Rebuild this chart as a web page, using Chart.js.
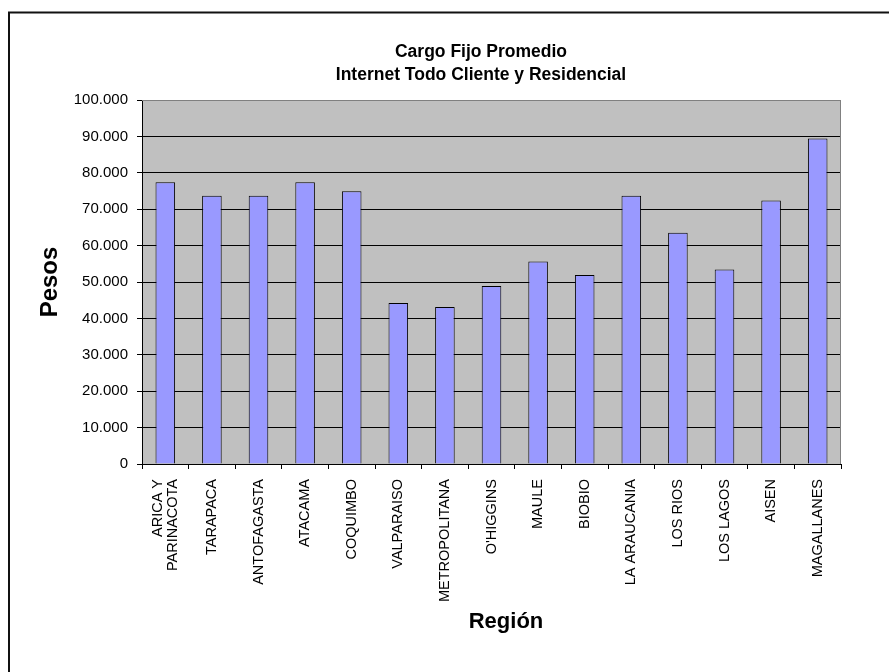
<!DOCTYPE html>
<html>
<head>
<meta charset="utf-8">
<script src="https://cdn.jsdelivr.net/npm/chart.js@4.4.0/dist/chart.umd.min.js"></script>
<style>
  html, body { margin: 0; padding: 0; background: #fff; overflow: hidden; }
  canvas { display: block; }
</style>
</head>
<body>
<canvas id="cargoChart" width="889" height="672"></canvas>
<script>
//DATA
var regiones = [
  ["ARICA Y", "PARINACOTA"], "TARAPACA", "ANTOFAGASTA", "ATACAMA", "COQUIMBO",
  "VALPARAISO", "METROPOLITANA", "O'HIGGINS", "MAULE", "BIOBIO",
  "LA ARAUCANIA", "LOS RIOS", "LOS LAGOS", "AISEN", "MAGALLANES"
];
var cargoFijo = [77400, 73700, 73700, 77400, 74900, 44200, 43100, 48900, 55600, 51900, 73700, 63500, 53400, 72400, 89400];
var etiquetasY = ["0", "10.000", "20.000", "30.000", "40.000", "50.000", "60.000", "70.000", "80.000", "90.000", "100.000"];
var titulo = ["Cargo Fijo Promedio", "Internet Todo Cliente y Residencial"];
var tituloX = "Región";
var tituloY = "Pesos";

//Colors
var $bar = "#9999ff";
var $plot = "#c0c0c0";
var $grey = "#808080";
var $black = "#000";
var $font = '"Liberation Sans", Arial, sans-serif';
var xLineHeight = 15.5;

// background, frame and titles the Excel way
var excelLook = {
  id: "excelLook",
  beforeDraw: function (chart) {
    var ctx = chart.ctx, a = chart.chartArea;
    // centre the two-line category label on its bar
    var items = chart.scales.x.getLabelItems();
    items.forEach(function (it) {
      if (Array.isArray(it.label)) {
        it.options.translation[0] -= (it.label.length - 1) * xLineHeight / 2;
      }
    });
    ctx.save();
    ctx.fillStyle = "#fff";
    ctx.fillRect(0, 0, chart.width, chart.height);
    // outer frame (only left and top are in the picture)
    ctx.strokeStyle = "#111";
    ctx.lineWidth = 2;
    ctx.beginPath();
    ctx.moveTo(9, chart.height);
    ctx.lineTo(9, 12.5);
    ctx.lineTo(chart.width, 12.5);
    ctx.stroke();
    // plot area
    ctx.fillStyle = $plot;
    ctx.fillRect(a.left, a.top, a.right - a.left, a.bottom - a.top);
    ctx.restore();
  },
  beforeDatasetsDraw: function (chart) {
    var ctx = chart.ctx, a = chart.chartArea;
    ctx.save();
    ctx.strokeStyle = $grey;
    ctx.lineWidth = 1;
    ctx.beginPath();
    ctx.moveTo(a.left, Math.round(a.top) + 0.5);
    ctx.lineTo(Math.round(a.right) - 0.5, Math.round(a.top) + 0.5);
    ctx.lineTo(Math.round(a.right) - 0.5, a.bottom);
    ctx.stroke();
    ctx.restore();
  },
  afterDraw: function (chart) {
    var ctx = chart.ctx;
    ctx.save();
    ctx.fillStyle = $black;
    ctx.textAlign = "center";
    ctx.textBaseline = "alphabetic";
    ctx.font = "bold 17.5px " + $font;
    ctx.fillText(titulo[0], 481, 57);
    ctx.fillText(titulo[1], 481, 80);
    ctx.font = "bold 22px " + $font;
    ctx.fillText(tituloX, 506, 628);
    ctx.restore();
  }
};

function cargoChart() {
  var data = {
    labels: regiones,
    datasets: [
      {
        label: "Cargo Fijo",
        backgroundColor: $bar,
        borderColor: $black,
        borderWidth: 1,
        categoryPercentage: 1,
        barPercentage: 0.42,
        data: cargoFijo
      }
    ]
  };

  var ctx = document.getElementById("cargoChart").getContext("2d");
  var myBarChart = new Chart(ctx, {
    type: "bar",
    data: data,
    plugins: [excelLook],
    options: {
      responsive: false,
      animation: false,
      devicePixelRatio: 1,
      layout: { padding: { top: 100, right: 48, bottom: 0, left: 0 } },
      plugins: {
        legend: { display: false },
        tooltip: { enabled: false }
      },
      scales: {
        x: {
          afterFit: function (s) { s.height = 208; },
          grid: { drawOnChartArea: false, color: $black, tickLength: 5, offset: true },
          border: { color: $black, width: 1 },
          ticks: {
            autoSkip: false, maxRotation: 90, minRotation: 90,
            color: $black, padding: 10,
            font: { size: 14.5, family: $font, lineHeight: xLineHeight + "px" }
          }
        },
        y: {
          min: 0,
          max: 100000,
          afterFit: function (s) { s.width = 142; },
          grid: {
            color: function (c) { return c.tick && c.tick.value === 100000 ? $grey : $black; },
            tickColor: $black,
            tickLength: 5
          },
          border: { color: $black, width: 1 },
          ticks: {
            stepSize: 10000,
            color: $black,
            padding: 9,
            font: { size: 15, family: $font },
            callback: function (v, i) { return etiquetasY[i]; }
          },
          title: {
            display: true,
            text: tituloY,
            color: $black,
            font: { size: 24, weight: "bold", family: $font },
            padding: { top: 36, bottom: 0 }
          }
        }
      }
    }
  });
}

cargoChart();
</script>
</body>
</html>
